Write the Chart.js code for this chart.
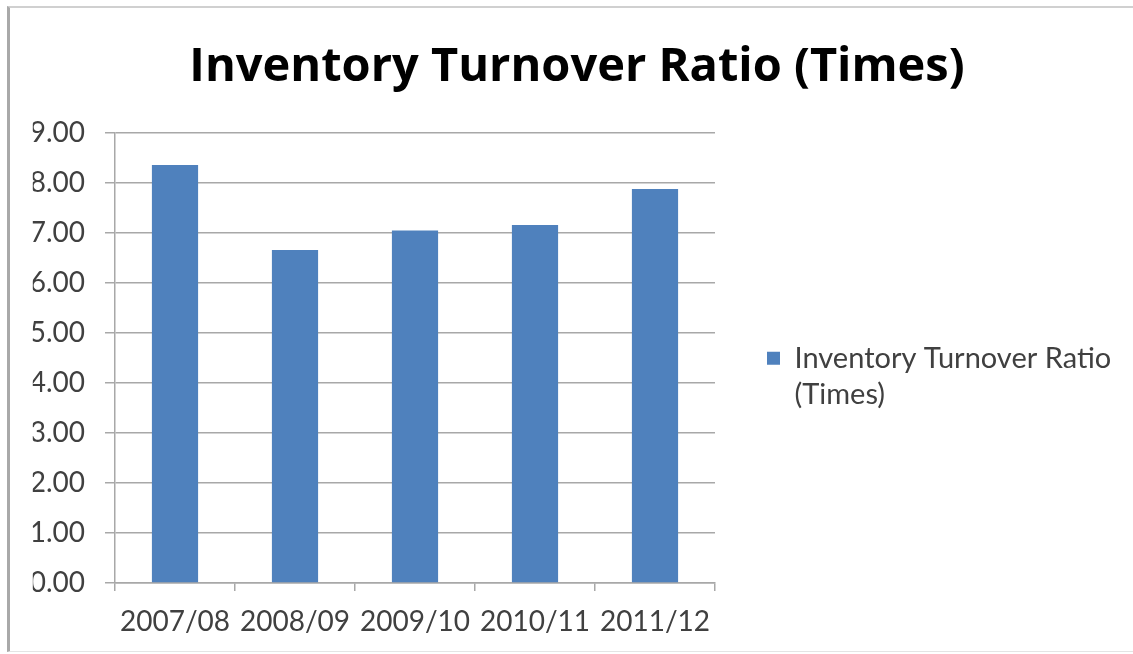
<!DOCTYPE html>
<html><head><meta charset="utf-8">
<script src="https://cdn.jsdelivr.net/npm/chart.js@4"></script>
<style>
html,body{margin:0;padding:0;background:#fff;}
#frame{position:absolute;left:7px;top:6px;width:1126px;height:646px;border-left:3px solid #a9a9a9;border-top:2px solid #d0d0d0;border-bottom:1px solid #e4e4e4;box-sizing:border-box;}
#wrap{position:absolute;left:0;top:0;width:1133px;height:654px;}
</style></head><body>
<div id="frame"></div>
<div id="wrap"><canvas id="c" width="1133" height="654"></canvas></div>
<script>
const chartTitle = 'Inventory Turnover Ratio (Times)';
const categories = ['2007/08', '2008/09', '2009/10', '2010/11', '2011/12'];
const seriesLegendLines = ['Inventory Turnover Ratio', '(Times)'];
const turnoverValues = [8.36, 6.66, 7.05, 7.16, 7.88];
const yTickMin = 0;
const yTickMax = 9;
const yTickStep = 1;

const FONT = 'Lato, "Open Sans", sans-serif';
const TITLE_FONT = '"Open Sans", Lato, sans-serif';
const barColor = '#4f81bd';
const gridColor = '#a8a8a8';
const textColor = '#404040';

// target plot rectangle (from the reference)
const AREA = {left: 115, right: 715, top: 133, bottom: 583};
const CANVAS_W = 1133, CANVAS_H = 654;
const TITLE_CENTER_X = 577, TITLE_WIDTH = 775, TITLE_CENTER_Y = 68;

const LEG = {font: 29, lineHeight: 1.27, box: 13, padding: 52};

// measure text to lay the boxes out exactly
const mctx = document.createElement('canvas').getContext('2d');
mctx.font = `bold 50px ${TITLE_FONT}`;
const titleSize = Math.round(50 * TITLE_WIDTH / mctx.measureText(chartTitle).width);
mctx.font = `${LEG.font}px ${FONT}`;
const longest = seriesLegendLines.reduce((a, b) => a.length > b.length ? a : b);
const legendTextW = mctx.measureText(longest).width;
const legendW = LEG.padding + LEG.box + LEG.font / 2 + legendTextW + 10;
const padRight = CANVAS_W - AREA.right - legendW;
const padLeft = 2 * TITLE_CENTER_X - CANVAS_W + padRight;
const titleLineH = titleSize * 1.2;
const titlePadTop = TITLE_CENTER_Y - titleLineH / 2;
const titlePadBottom = AREA.top - titlePadTop - titleLineH;

new Chart(document.getElementById('c'), {
  type: 'bar',
  data: {
    labels: categories,
    datasets: [{
      label: seriesLegendLines.join(' '),
      data: turnoverValues,
      backgroundColor: barColor,
      borderWidth: 0,
      barPercentage: 1,
      categoryPercentage: 0.385
    }]
  },
  options: {
    responsive: false,
    animation: false,
    devicePixelRatio: 1,
    layout: {padding: {left: padLeft, right: padRight, top: 0, bottom: 0}},
    plugins: {
      tooltip: {enabled: false},
      title: {
        display: true,
        text: chartTitle,
        color: '#000',
        font: {family: TITLE_FONT, size: titleSize, weight: 'bold', lineHeight: 1.2},
        padding: {top: titlePadTop, bottom: titlePadBottom}
      },
      legend: {
        position: 'right',
        align: 'center',
        fullSize: false,
        maxWidth: 1000,
        title: {display: true, text: '', padding: {top: 44, bottom: 0}, font: {size: 1, lineHeight: 1}},
        labels: {
          boxWidth: LEG.box,
          boxHeight: LEG.box,
          padding: LEG.padding,
          color: textColor,
          font: {family: FONT, size: LEG.font, lineHeight: LEG.lineHeight},
          generateLabels: () => [{
            text: seriesLegendLines,
            fillStyle: barColor,
            strokeStyle: barColor,
            lineWidth: 0,
            hidden: false,
            datasetIndex: 0,
            fontColor: textColor
          }]
        }
      }
    },
    scales: {
      x: {
        offset: true,
        grid: {display: true, drawOnChartArea: false, drawTicks: true, tickLength: 8, color: gridColor, lineWidth: 1.5, offset: true},
        border: {display: true, color: gridColor, width: 1.5},
        ticks: {color: textColor, font: {family: FONT, size: 28}, padding: 14, maxRotation: 0, autoSkip: false},
        afterFit: (s) => { s.height = CANVAS_H - AREA.bottom; }
      },
      y: {
        min: yTickMin,
        max: yTickMax,
        ticks: {stepSize: yTickStep, color: textColor, font: {family: FONT, size: 28}, padding: 20,
          callback: (v) => Number(v).toFixed(2)},
        grid: {color: gridColor, lineWidth: 1.5, tickLength: 10},
        border: {display: true, color: gridColor, width: 1.5},
        afterFit: (s) => { s.width = AREA.left - padLeft; }
      }
    }
  }
});
</script>
</body></html>
